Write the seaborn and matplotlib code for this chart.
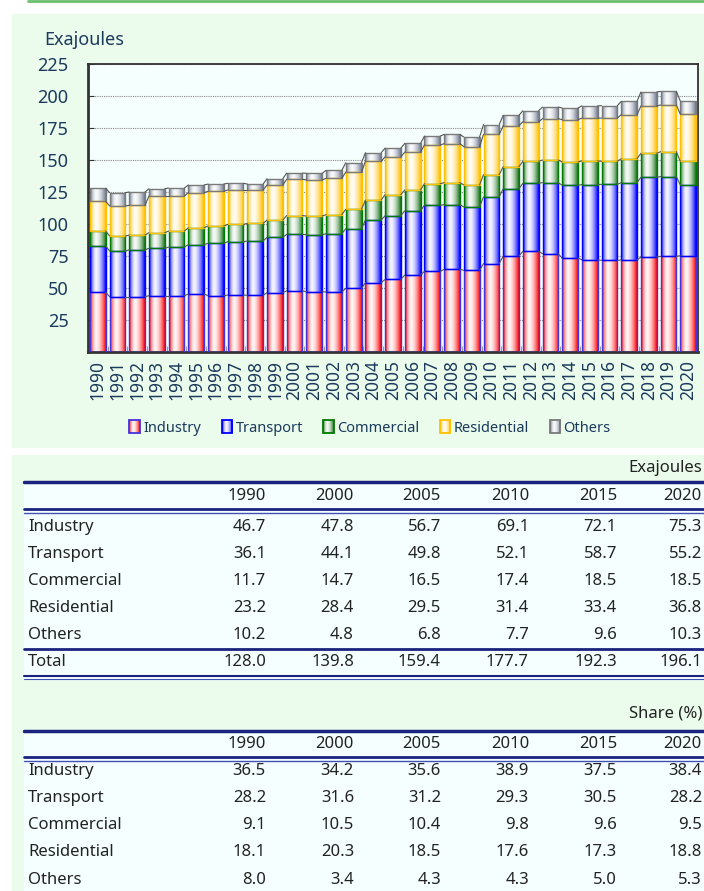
import numpy as np
import pandas as pd
import seaborn as sns
from matplotlib import pyplot as plt
from matplotlib.lines import Line2D
from matplotlib.patches import Patch, Rectangle

# yearly values (Exajoules)
years = [str(y) for y in range(1990, 2021)]
industry = [46.7, 43.2, 43.2, 44.0, 44.0, 45.3, 44.0, 44.5, 44.3, 46.4, 47.8, 47.1, 46.9, 49.7, 54.2, 56.7,
            60.2, 63.0, 64.6, 63.8, 69.1, 75.0, 78.6, 76.8, 73.2, 72.1, 71.6, 71.9, 74.2, 74.7, 75.3]
transport = [36.1, 35.7, 36.7, 37.0, 38.0, 38.6, 40.9, 41.7, 42.4, 43.2, 44.1, 44.6, 45.5, 46.7, 48.9, 49.8,
             50.2, 51.6, 50.5, 49.5, 52.1, 52.6, 53.2, 55.5, 57.0, 58.7, 59.4, 60.4, 62.3, 62.3, 55.2]
commercial = [11.7, 11.7, 11.5, 12.2, 12.5, 13.2, 13.5, 13.5, 13.8, 13.5, 14.7, 14.5, 14.9, 15.1, 15.6, 16.5,
              16.2, 16.9, 17.2, 17.2, 17.4, 17.2, 17.2, 17.7, 18.2, 18.5, 18.0, 18.7, 18.7, 19.5, 18.5]
residential = [23.2, 23.5, 23.2, 28.7, 27.4, 27.4, 27.1, 26.9, 26.1, 27.4, 28.4, 28.2, 28.4, 29.1, 30.3, 29.5,
               29.6, 30.2, 30.5, 29.9, 31.4, 32.0, 30.9, 32.3, 33.1, 33.4, 33.8, 34.4, 37.0, 36.5, 36.8]
others = [10.2, 10.4, 10.4, 5.7, 6.2, 6.0, 5.7, 5.2, 4.6, 4.9, 4.8, 5.2, 6.2, 7.3, 6.7, 6.8,
          6.8, 7.0, 7.2, 7.6, 7.7, 8.1, 8.6, 9.1, 9.1, 9.6, 9.6, 10.4, 10.9, 10.6, 10.3]

sectors = ['Industry', 'Transport', 'Commercial', 'Residential', 'Others']

# tables
table_years = ['1990', '2000', '2005', '2010', '2015', '2020']
ej_rows = {
    'Industry': ['46.7', '47.8', '56.7', '69.1', '72.1', '75.3'],
    'Transport': ['36.1', '44.1', '49.8', '52.1', '58.7', '55.2'],
    'Commercial': ['11.7', '14.7', '16.5', '17.4', '18.5', '18.5'],
    'Residential': ['23.2', '28.4', '29.5', '31.4', '33.4', '36.8'],
    'Others': ['10.2', '4.8', '6.8', '7.7', '9.6', '10.3'],
}
ej_total = ['128.0', '139.8', '159.4', '177.7', '192.3', '196.1']
share_rows = {
    'Industry': ['36.5', '34.2', '35.6', '38.9', '37.5', '38.4'],
    'Transport': ['28.2', '31.6', '31.2', '29.3', '30.5', '28.2'],
    'Commercial': ['9.1', '10.5', '10.4', '9.8', '9.6', '9.5'],
    'Residential': ['18.1', '20.3', '18.5', '17.6', '17.3', '18.8'],
    'Others': ['8.0', '3.4', '4.3', '4.3', '5.0', '5.3'],
}

df = pd.DataFrame({'year': years, 'Industry': industry, 'Transport': transport,
                   'Commercial': commercial, 'Residential': residential, 'Others': others})

base_colors = {'Industry': (1.0, 0.0, 0.0), 'Transport': (0.0, 0.0, 1.0), 'Commercial': (0.1, 0.45, 0.1),
               'Residential': (1.0, 0.75, 0.0), 'Others': (0.42, 0.47, 0.56)}
edge_colors = {'Industry': '#4433DD', 'Transport': '#0000FF', 'Commercial': '#007A00',
               'Residential': '#FFC000', 'Others': '#7A7A7A'}

navy = '#1B3A5C'
W, H = 704, 891


def fx(px):
    return px / W


def fy(py):
    return 1 - py / H


def gradient(rgb):
    t = np.linspace(0, 1, 64)
    a = np.where(t < 0.38, (0.38 - t) / 0.38, (t - 0.38) / 0.62) ** 1.7
    a = 0.04 + 0.96 * a
    return 1 - a[None, :, None] * (1 - np.array(rgb)[None, None, :])


def shade(ax, bars, rgb):
    img = gradient(rgb)
    for p in bars:
        x, y = p.get_x(), p.get_y()
        w, h = p.get_width(), p.get_height()
        im = ax.imshow(img, extent=(x, x + w, y, y + h), aspect='auto', zorder=2.5,
                       interpolation='bilinear')
        im.set_clip_path(p)
        p.set_facecolor('none')


sns.set_style('white')
plt.rcParams['font.family'] = ['Noto Sans', 'DejaVu Sans']

fig = plt.figure(figsize=(7.04, 8.91), dpi=100)
fig.patch.set_facecolor('white')

# panels
fig.add_artist(Rectangle((fx(12), fy(448)), fx(692), 434 / H, transform=fig.transFigure,
                         facecolor='#EBFCEC', edgecolor='none', zorder=0))
fig.add_artist(Rectangle((fx(12), fy(891)), fx(692), 436 / H, transform=fig.transFigure,
                         facecolor='#EBFCEC', edgecolor='none', zorder=0))
fig.add_artist(Line2D([fx(28), 1], [fy(0.8), fy(0.8)], transform=fig.transFigure,
                      color='#6CBF6C', lw=2))

ax = fig.add_axes([fx(88), fy(352), 610 / W, 288 / H])
ax.set_facecolor('#F5FFFE')
ax.set_axisbelow(True)

bottom = np.zeros(len(years))
tops = []
for name in sectors:
    n0 = len(ax.patches)
    sns.barplot(data=df, x='year', y=name, bottom=bottom, color=base_colors[name],
                edgecolor=edge_colors[name], linewidth=1.0, width=0.8, errorbar=None,
                ax=ax, zorder=3)
    shade(ax, ax.patches[n0:], base_colors[name])
    bottom = bottom + df[name].to_numpy()
    tops.append(bottom.copy())

# series lines between bars
for top in tops:
    for i in range(len(years) - 1):
        ax.plot([i + 0.4, i + 0.6], [top[i], top[i + 1]], color='#555555', lw=0.8, zorder=3)

ax.set_xlim(-0.5, len(years) - 0.5)
ax.set_ylim(0, 225)
ax.set_yticks(range(25, 226, 25))
ax.yaxis.grid(True, linestyle=(0, (1, 1)), color='#888888', lw=0.8)
ax.set_xlabel('')
ax.set_ylabel('')
ax.tick_params(axis='y', direction='in', length=4, color='#333333', labelsize=13,
               labelcolor=navy, pad=14, left=True)
ax.tick_params(axis='x', length=0, labelsize=12.5, labelcolor=navy, pad=6, rotation=90)
ax.set_xticks(np.arange(-0.5, len(years), 1), minor=True)
ax.tick_params(axis='x', which='minor', direction='in', length=4, color='#888888', bottom=True)
for s in ax.spines.values():
    s.set_visible(True)
    s.set_color('#333333')
    s.set_linewidth(1.3)
ax.spines['left'].set_linewidth(2)
ax.spines['bottom'].set_linewidth(2)

fig.text(fx(44), fy(40), 'Exajoules', fontsize=13, color=navy, va='center', ha='left')

# legend keys with the same cylinder shading as the bars
lax = fig.add_axes([0, 0, 1, 1], facecolor='none')
lax.set_axis_off()
handles = [Patch(facecolor='none', edgecolor=edge_colors[n], linewidth=1.3) for n in sectors]
leg = fig.legend(handles, sectors, loc='center', bbox_to_anchor=(fx(370), fy(428)), ncol=5,
                 frameon=False, fontsize=10.5, handlelength=0.7, handleheight=0.9, handletextpad=0.25,
                 columnspacing=1.4, labelcolor=navy)
fig.canvas.draw()
for n, h in zip(sectors, leg.legend_handles):
    bb = h.get_window_extent().transformed(fig.transFigure.inverted())
    lax.imshow(gradient(base_colors[n]), extent=(bb.x0, bb.x1, bb.y0, bb.y1), aspect='auto',
               interpolation='bilinear', zorder=1)
lax.set_xlim(0, 1)
lax.set_ylim(0, 1)

# tables
col_right = [266, 354, 441, 529, 617, 702]
line_navy = '#1A237E'
line_blue = '#3F51B5'
tcol = '#222222'
fs = 12


def hline(y, lw, color):
    fig.add_artist(Line2D([fx(24), 1], [fy(y), fy(y)], transform=fig.transFigure, color=color, lw=lw))


def draw_table(unit, y_unit, y_top, y_head, rows, row_y, total=None, total_y=None, y_end=891):
    fig.add_artist(Rectangle((fx(24), fy(y_end)), 1 - fx(24), (y_end - y_top) / H,
                             transform=fig.transFigure, facecolor='#F5FFFF', edgecolor='none'))
    fig.text(fx(702), fy(y_unit), unit, ha='right', va='center', fontsize=fs, color=tcol)
    hline(y_top, 2.5, line_navy)
    for x, yr in zip(col_right, table_years):
        fig.text(fx(x), fy(y_head), yr, ha='right', va='center', fontsize=fs, color=tcol)
    hline(y_head + 13, 2.0, line_navy)
    hline(y_head + 16.5, 1.0, line_blue)
    for (label, vals), yy in zip(rows.items(), row_y):
        fig.text(fx(28), fy(yy), label, ha='left', va='center', fontsize=fs, color=tcol)
        for x, v in zip(col_right, vals):
            fig.text(fx(x), fy(yy), v, ha='right', va='center', fontsize=fs, color=tcol)
    if total is not None:
        hline(total_y - 13, 2.0, line_navy)
        fig.text(fx(28), fy(total_y), 'Total', ha='left', va='center', fontsize=fs, color=tcol)
        for x, v in zip(col_right, total):
            fig.text(fx(x), fy(total_y), v, ha='right', va='center', fontsize=fs, color=tcol)
        hline(total_y + 14, 1.5, line_navy)
        hline(total_y + 16.5, 0.8, line_blue)


draw_table('Exajoules', 468, 482, 496, ej_rows, [527, 554, 581, 608, 635], ej_total, 662, y_end=679)
draw_table('Share (%)', 714, 731, 744, share_rows, [771, 798, 825, 852, 880])

fig.savefig('out.png', dpi=100, facecolor='white')
